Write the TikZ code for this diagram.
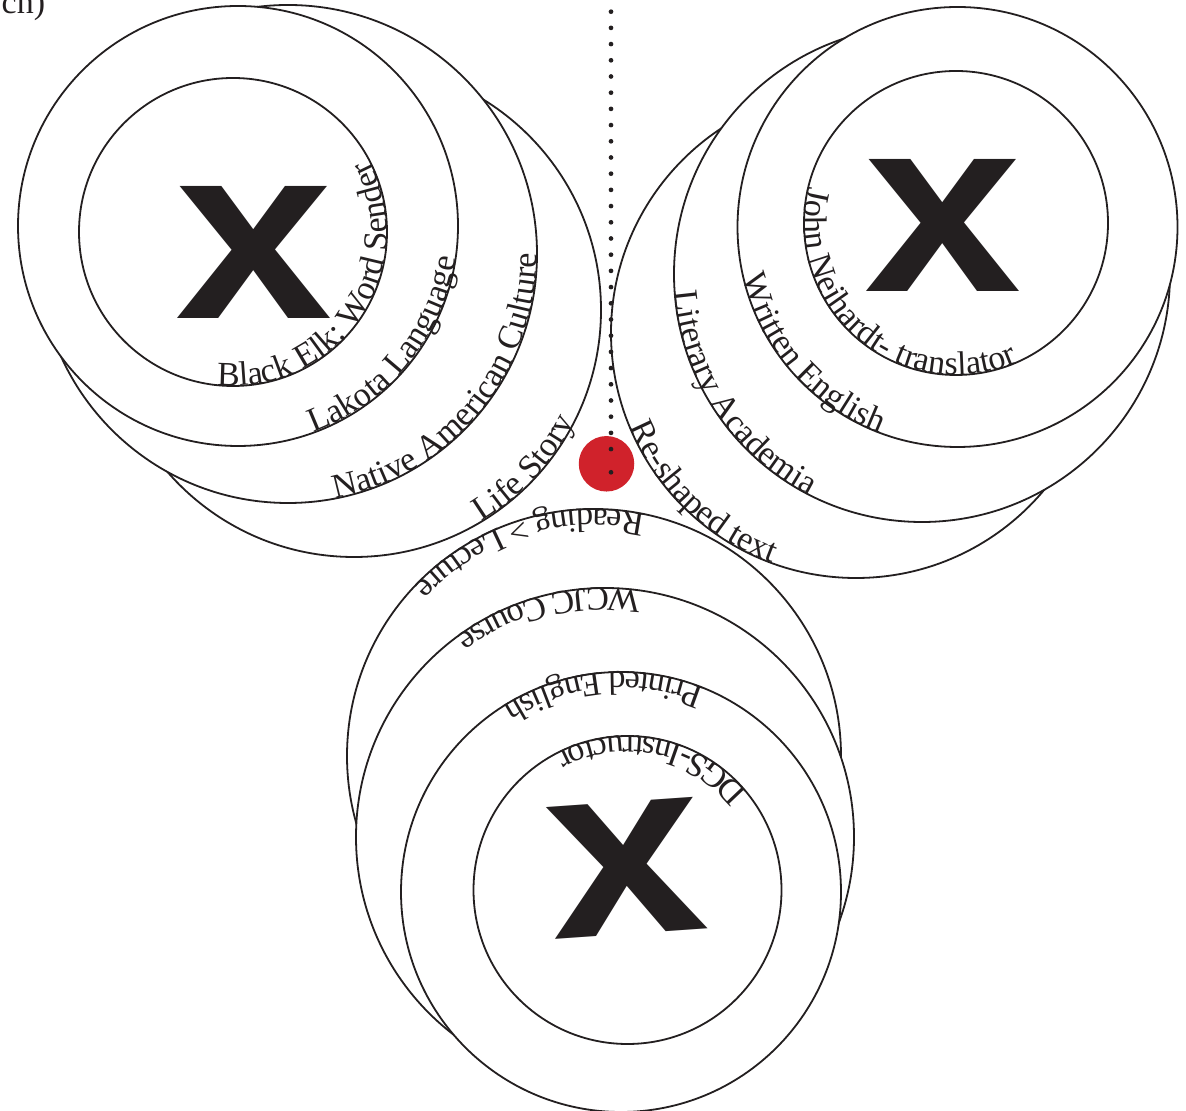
\documentclass[tikz,border=0pt]{standalone}
\usepackage{fontspec}
\setmainfont{Liberation Serif}
\newfontfamily\xfam{Liberation Sans}
\usetikzlibrary{decorations.text,calc}
\definecolor{ink}{HTML}{231F20}
\definecolor{dotred}{RGB}{208,34,43}
\newcommand{\labelfont}{\fontsize{34}{34}\selectfont}
\newcommand{\ringlabel}[4]{%
  \path[decorate,decoration={text along path,text={|\labelfont\color{ink}|#4},text align=left}]
    ($(#1)+(#2:#3pt)$) arc[start angle=#2, delta angle=200, radius=#3pt];}
\tikzset{
  ring/.style={circle, draw=ink, line width=1.8pt, fill=white, inner sep=0pt, minimum size=#1},
  bigx/.style={font=\xfam\bfseries\fontsize{250}{250}\selectfont, text=ink, inner sep=0pt, xscale=1.13},
  dotline/.style={draw=ink, line width=4.7pt, line cap=round, dash pattern=on 0pt off 16.2pt},
}
\begin{document}
\begin{tikzpicture}[x=1pt,y=1pt]
\useasboundingbox (0,0) rectangle (1186,1111);
% left cluster
\node[ring=494pt] (L3) at (354,801) {};
\node[ring=498pt] (L2) at (288,857) {};
\node[ring=440pt] (L1) at (238,885) {};
\node[ring=308pt] (L0) at (233,879) {};
% right cluster
\node[ring=490pt] (R3) at (856,778) {};
\node[ring=496pt] (R2) at (922,837) {};
\node[ring=440pt] (R1) at (957.5,884) {};
\node[ring=304pt] (R0) at (956,888) {};
% bottom cluster
\node[ring=494pt] (B3) at (594,355) {};
\node[ring=498pt] (B2) at (605,274) {};
\node[ring=440pt] (B1) at (621,219) {};
\node[ring=308pt] (B0) at (627.5,221) {};
% labels
\ringlabel{L0.center}{-96}{154}{Black Elk: Word Sender}
\ringlabel{L1.center}{-70}{220}{Lakota Language}
\ringlabel{L2.center}{-79}{249}{Native American Culture}
\ringlabel{L3.center}{-59}{247}{Life Story}
\ringlabel{R0.center}{166}{152}{John Neihardt- translator}
\ringlabel{R1.center}{193}{220}{Written English}
\ringlabel{R2.center}{184}{248}{Literary Academia}
\ringlabel{R3.center}{202.5}{245}{Re-shaped text}
\ringlabel{B3.center}{78}{247}{Reading > Lecture}
\ringlabel{B2.center}{81.8}{249}{WCJC Course}
\ringlabel{B1.center}{67.7}{220}{Printed English}
\ringlabel{B0.center}{39}{154}{DGS-Instructor}
% big X marks
\node[bigx] (XL) at (254,859) {x};
\node[bigx] (XR) at (943,885.5) {x};
\node[bigx, rotate=4.5] (XB) at (626,243) {x};
% red dot and dotted line
\node[circle, fill=dotred, minimum size=55.5pt, inner sep=0pt] (red) at (606.5,647.2) {};
\coordinate (dtop) at (611,1099.3);
\coordinate (dbot) at (611,661.9);
\draw[dotline] (dtop) -- (dbot);
\node[circle, fill=ink, minimum size=4.7pt, inner sep=0pt] (dlast) at (611,638.7) {};
% clipped text at top left
\node[anchor=base west, inner sep=0pt, font=\labelfont, text=ink] (cut) at (1.5,1097.5) {cn)};
\end{tikzpicture}
\end{document}
